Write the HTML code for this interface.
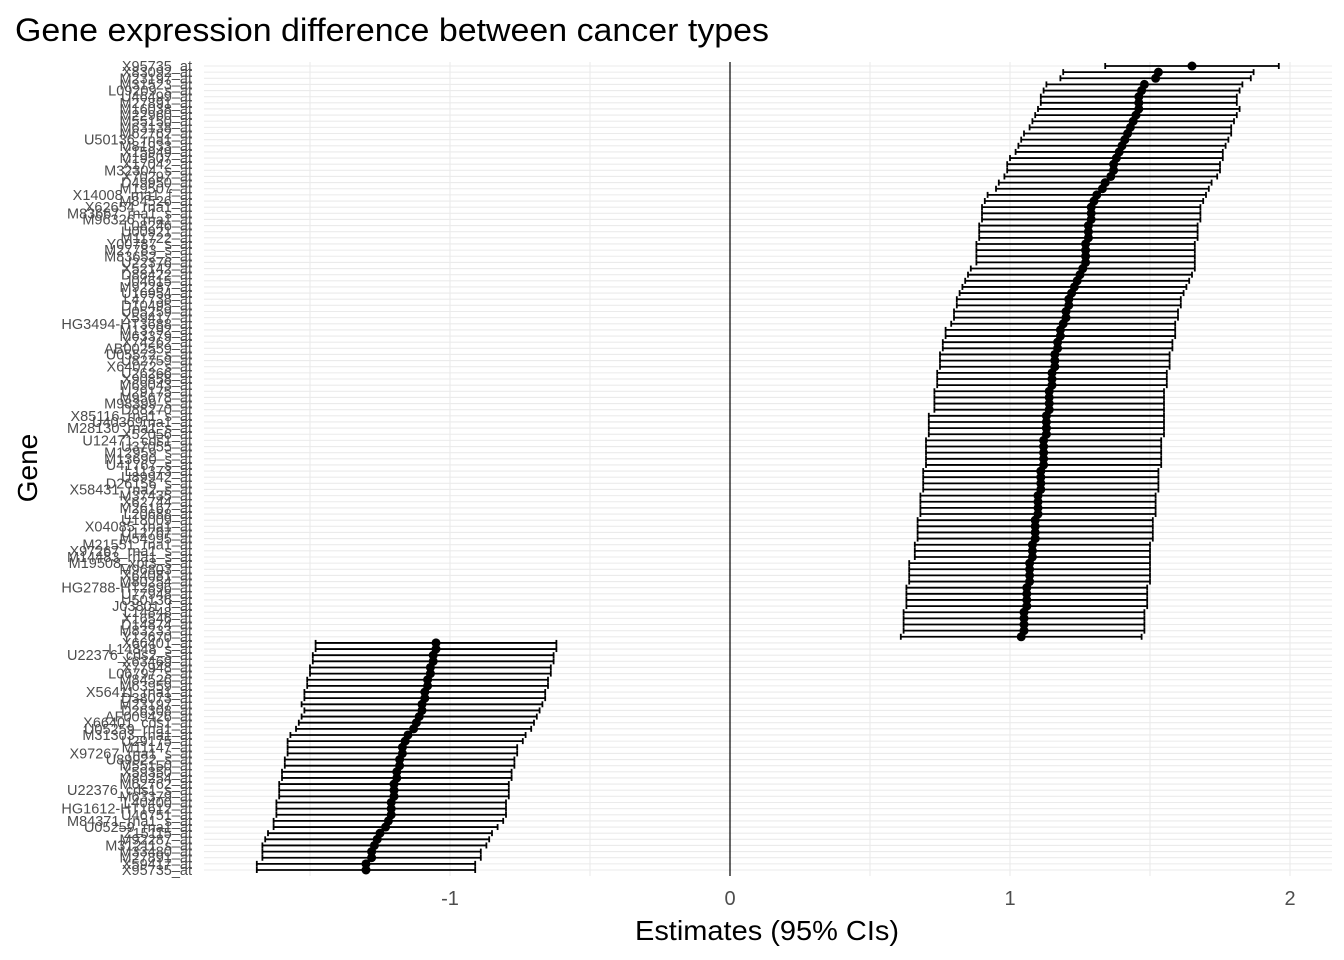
<!DOCTYPE html>
<html><head><meta charset="utf-8"><style>
body{margin:0;background:#fff}
svg{display:block;font-family:"Liberation Sans",Arial,sans-serif}
</style></head><body>
<svg id="chart" width="1344" height="960" viewBox="0 0 1344 960">
<text x="15" y="41" font-size="32" textLength="754" lengthAdjust="spacingAndGlyphs" fill="#000">Gene expression difference between cancer types</text>
<g id="grid"></g>
<g id="ylabels"></g>
<g id="marks"></g>
<g id="xticks"></g>
<text x="767" y="940" font-size="28" textLength="264" lengthAdjust="spacingAndGlyphs" text-anchor="middle" fill="#000">Estimates (95% CIs)</text>
<text transform="translate(37,468) rotate(-90)" font-size="28" text-anchor="middle" fill="#000">Gene</text>
</svg>
<script>
const estimates = [1.65,1.53,1.52,1.48,1.47,1.46,1.46,1.46,1.45,1.44,
1.43,1.42,1.41,1.40,1.39,1.38,1.37,1.37,1.36,1.34,
1.33,1.31,1.30,1.29,1.29,1.29,1.28,1.28,1.28,1.27,
1.27,1.27,1.27,1.26,1.25,1.24,1.23,1.22,1.21,1.21,
1.20,1.20,1.19,1.18,1.18,1.17,1.17,1.16,1.16,1.16,
1.15,1.15,1.15,1.14,1.14,1.14,1.14,1.13,1.13,1.13,
1.13,1.12,1.12,1.12,1.12,1.12,1.11,1.11,1.11,1.11,
1.10,1.10,1.10,1.10,1.09,1.09,1.09,1.09,1.08,1.08,
1.08,1.07,1.07,1.07,1.07,1.06,1.06,1.06,1.06,1.05,
1.05,1.05,1.05,1.04,
-1.05,-1.05,-1.06,-1.06,-1.07,-1.07,-1.08,-1.08,-1.09,-1.09,
-1.10,-1.10,-1.11,-1.12,-1.13,-1.15,-1.16,-1.17,-1.17,-1.18,
-1.18,-1.19,-1.19,-1.20,-1.20,-1.20,-1.21,-1.21,-1.21,-1.22,
-1.23,-1.25,-1.26,-1.27,-1.28,-1.28,-1.30,-1.30];
const ciHalf = [0.31,0.34,0.34,0.35,0.35,0.35,0.35,0.36,0.36,0.36,
0.36,0.37,0.37,0.37,0.37,0.38,0.38,0.38,0.38,0.38,
0.38,0.39,0.39,0.39,0.39,0.39,0.39,0.39,0.39,0.39,
0.39,0.39,0.39,0.40,0.40,0.40,0.40,0.40,0.40,0.40,
0.40,0.40,0.40,0.41,0.41,0.41,0.41,0.41,0.41,0.41,
0.41,0.41,0.41,0.41,0.41,0.41,0.41,0.42,0.42,0.42,
0.42,0.42,0.42,0.42,0.42,0.42,0.42,0.42,0.42,0.42,
0.42,0.42,0.42,0.42,0.42,0.42,0.42,0.42,0.42,0.42,
0.42,0.43,0.43,0.43,0.43,0.43,0.43,0.43,0.43,0.43,
0.43,0.43,0.43,0.43,
0.43,0.43,0.43,0.43,0.43,0.43,0.43,0.43,0.43,0.43,
0.43,0.42,0.42,0.42,0.42,0.42,0.42,0.41,0.41,0.41,
0.41,0.41,0.41,0.41,0.41,0.41,0.41,0.41,0.41,0.41,
0.40,0.40,0.40,0.40,0.39,0.39,0.39,0.39];
const genes = ["X95735_at","X83092_at","M23197_at","M31523_at","L09209_s_at","U46499_at","M27891_at","M16038_at","M22960_at","M55150_at",
"M63138_at","M62762_at","U50136_rna1_at","M81933_at","X15949_at","M19507_at","X17042_at","M32304_s_at","X70297_at","D49950_at",
"M19507_at","X14008_rna1_f_at","M84526_at","X62654_rna1_at","M83667_rna1_s_at","M96326_rna1_at","L08246_at","U00921_at","M11722_at","Y00787_s_at",
"M27783_s_at","M83652_s_at","U22376_at","X52142_at","D88422_at","J04615_at","M92287_at","U16954_at","L47738_at","D10495_at",
"U05259_at","X59417_at","HG3494-HT3688_at","M13792_at","M63379_at","X74262_at","AB002559_at","U05572_s_at","U82759_at","X64072_s_at",
"U26266_at","X90858_at","M69043_at","U29175_at","M95678_at","M98399_s_at","D88270_at","X85116_rna1_s_at","U40369rna1_at","M28130_rna1_s_at",
"X52056_at","U12471_cds1_at","U37055_at","M12959_s_at","M13690_s_at","U41767_s_at","L11373_at","U89942_at","D26156_s_at","X58431_rna2_s_at",
"M37435_at","X62744_at","M26167_at","L20688_at","U18009_at","X04085_rna1_at","U12767_at","M54995_at","M21551_rna1_at","X97267_rna1_s_at",
"M14483_rna1_s_at","M19508_xpt3_s_at","M96803_at","X64081_at","M80254_at","HG2788-HT2896_at","U77948_at","U50136_at","J03801_f_at","L14848_at",
"X16546_at","D14874_at","M83233_at","Y12670_at",
"X66401_at","L14848_s_at","U22376_cds2_s_at","X63469_at","X77948_at","L06797_s_at","M84526_at","M63959_at","X56411_rna1_at","D38073_at",
"M23197_at","D26308_at","AF009426_at","X66401_cds1_at","U05259_rna1_at","M31303_rna1_at","U29175_at","M11147_at","X97267_rna1_s_at","U89922_s_at",
"M55150_at","X59350_at","M80254_at","M62762_at","U22376_cds1_s_at","M63379_at","L40400_at","HG1612-HT1612_at","U46751_at","M84371_rna1_s_at",
"U05259_rna1_at","Z15115_at","M92287_at","M31211_s_at","M33480_at","M27891_at","X59417_at","X95735_at"];

const NS = "http://www.w3.org/2000/svg";
const X0 = 730, PX = 280;
const xs = v => X0 + v * PX;
const Y0 = 66, YSTEP = (870 - 66) / (estimates.length - 1);
const ys = i => Y0 + i * YSTEP;
const PL = 204, PR = 1332;
function mk(tag, attrs, parent){const e=document.createElementNS(NS,tag);for(const k in attrs)e.setAttribute(k,attrs[k]);parent.appendChild(e);return e;}

const grid = document.getElementById('grid');
estimates.forEach((v,i)=>{
  const l = mk('line',{x1:PL,x2:PR,y1:ys(i),y2:ys(i),stroke:'#ebebeb','stroke-width':1.1},grid);
  
  
});
const xGrid = [-1.5,-1,-0.5,0.5,1,1.5,2];
xGrid.forEach(v=>{
  const l = mk('line',{x1:xs(v),x2:xs(v),y1:62,y2:876,stroke:'#ebebeb','stroke-width':1.1},grid);
  
  
});
const zl = mk('line',{x1:X0,x2:X0,y1:62,y2:876,stroke:'#000','stroke-width':1.2},grid);



const yl = document.getElementById('ylabels');
genes.forEach((g,i)=>{
  const t = mk('text',{x:192,y:ys(i)+5,'font-size':14.5,'text-anchor':'end',fill:'#4d4d4d'},yl);
  t.textContent = g;
  
  
});

const marks = document.getElementById('marks');
estimates.forEach((v,i)=>{
  const lo = v - ciHalf[i], hi = v + ciHalf[i], y = ys(i);
  const g = mk('g',{},marks);
  
  
  mk('line',{x1:xs(lo),x2:xs(hi),y1:y,y2:y,stroke:'#000','stroke-width':1.8},g);
  mk('line',{x1:xs(lo),x2:xs(lo),y1:y-3,y2:y+3,stroke:'#000','stroke-width':1.8},g);
  mk('line',{x1:xs(hi),x2:xs(hi),y1:y-3,y2:y+3,stroke:'#000','stroke-width':1.8},g);
  mk('circle',{cx:xs(v),cy:y,r:4.5,fill:'#000'},g);
});

const xTicks = [-1,0,1,2];
const xTickLabels = ["-1","0","1","2"];
const xt = document.getElementById('xticks');
xTicks.forEach((v,i)=>{
  const t = mk('text',{x:xs(v),y:905,'font-size':20,'text-anchor':'middle',fill:'#4d4d4d'},xt);
  t.textContent = xTickLabels[i];
  
  
});
</script>
</body></html>
